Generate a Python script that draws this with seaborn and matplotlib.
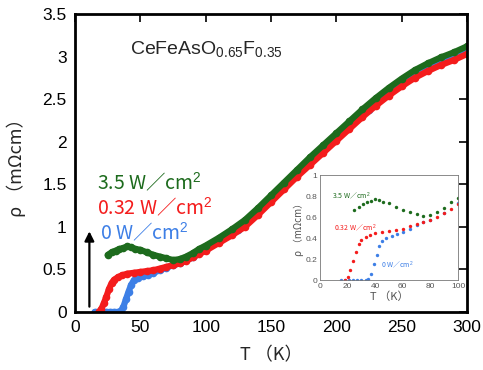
import matplotlib
matplotlib.use("Agg")
import matplotlib.pyplot as plt
import seaborn as sns
import numpy as np

sns.set_theme(style="white")
plt.rcParams['font.family'] = ['Liberation Sans', 'DejaVu Sans']
plt.rcParams['mathtext.fontset'] = 'custom'
plt.rcParams['mathtext.rm'] = 'Liberation Sans'
plt.rcParams['mathtext.it'] = 'Liberation Sans:italic'
CJK = ['Noto Sans CJK JP', 'DejaVu Sans']

# ---- data ----
T_red = [18, 20, 22, 24, 26, 28, 30, 33, 36, 40, 45, 50, 55, 60, 65, 70, 75, 80, 85, 90,
         95, 100, 110, 120, 130, 140, 150, 160, 170, 180, 190, 200, 210, 220, 230, 240,
         250, 260, 270, 280, 290, 300]
rho_red = [0.0, 0.03, 0.10, 0.18, 0.27, 0.34, 0.38, 0.41, 0.43, 0.45, 0.46, 0.47, 0.48, 0.49,
           0.51, 0.53, 0.55, 0.57, 0.60, 0.64, 0.68, 0.72, 0.81, 0.90, 1.00, 1.14, 1.29, 1.44,
           1.59, 1.73, 1.87, 2.01, 2.15, 2.29, 2.42, 2.54, 2.65, 2.75, 2.83, 2.90, 2.96, 3.03]

T_grn = [25, 28, 31, 34, 37, 40, 43, 46, 50, 55, 60, 65, 70, 75, 80, 85, 90, 95, 100, 110,
         120, 130, 140, 150, 160, 170, 180, 190, 200, 210, 220, 230, 240, 250, 260, 270,
         280, 290, 300]
rho_grn = [0.67, 0.70, 0.72, 0.74, 0.75, 0.77, 0.76, 0.74, 0.73, 0.70, 0.67, 0.65, 0.63, 0.61,
           0.62, 0.65, 0.69, 0.74, 0.78, 0.87, 0.97, 1.08, 1.22, 1.37, 1.52, 1.67, 1.82, 1.96,
           2.10, 2.24, 2.38, 2.51, 2.63, 2.74, 2.84, 2.92, 2.99, 3.05, 3.12]

T_blu = [15, 18, 21, 24, 27, 30, 33, 35, 37, 39, 41, 43, 45, 48, 52, 56, 60, 65, 70, 75, 80,
         90, 100, 125, 150, 175, 200, 225, 250, 275, 300]
rho_blu = [0, 0, 0, 0, 0, 0, 0, 0.01, 0.06, 0.15, 0.24, 0.32, 0.37, 0.40, 0.42, 0.44, 0.46,
           0.49, 0.52, 0.55, 0.57, 0.64, 0.73, 0.96, 1.31, 1.69, 2.04, 2.37, 2.68, 2.90, 3.10]

labels = ["3.5 W／cm$^2$", "0.32 W／cm$^2$", "0 W／cm$^2$"]
x_ticks = [0, 50, 100, 150, 200, 250, 300]
y_ticks = [0, 0.5, 1, 1.5, 2, 2.5, 3, 3.5]
y_tick_labels = ["0", "0.5", "1", "1.5", "2", "2.5", "3", "3.5"]
inset_x_ticks = [0, 20, 40, 60, 80, 100]
inset_y_ticks = [0, 0.2, 0.4, 0.6, 0.8, 1]
inset_y_tick_labels = ["0", "0.2", "0.4", "0.6", "0.8", "1"]

c_grn = "#1d6b1d"
c_red = "#f41c1c"
c_blu = "#3d7fe6"

fig = plt.figure(figsize=(4.83, 3.70), dpi=100)
ax = fig.add_axes([0.1553, 0.1568, 0.8116, 0.8054])

for T, r, c in [(T_blu, rho_blu, c_blu), (T_red, rho_red, c_red), (T_grn, rho_grn, c_grn)]:
    sns.lineplot(x=T, y=r, ax=ax, color=c, linewidth=4.5, marker='o', markersize=5.5,
                 markeredgewidth=0, sort=False, estimator=None, solid_capstyle='round')

ax.set_xlim(0, 300)
ax.set_ylim(0, 3.5)
ax.set_xticks(x_ticks)
ax.set_xticklabels([str(v) for v in x_ticks])
ax.set_yticks(y_ticks)
ax.set_yticklabels(y_tick_labels)
ax.tick_params(direction='in', length=6, width=1.2, top=True, right=True,
               labelsize=12.5, pad=6, colors='black')
for s in ax.spines.values():
    s.set_linewidth(2)
    s.set_color('black')
ax.set_xlabel("T （K）", fontsize=13, labelpad=8, family=CJK)
ax.set_ylabel("ρ （mΩcm）", fontsize=13, labelpad=12, family=CJK)

ax.text(0.14, 0.865, "CeFeAsO$_{0.65}$F$_{0.35}$", transform=ax.transAxes, fontsize=14)
ax.text(0.055, 0.413, labels[0], transform=ax.transAxes, fontsize=14, color=c_grn, family=CJK)
ax.text(0.055, 0.328, labels[1], transform=ax.transAxes, fontsize=14, color=c_red, family=CJK)
ax.text(0.065, 0.243, labels[2], transform=ax.transAxes, fontsize=14, color=c_blu, family=CJK)
ax.annotate("", xy=(11, 0.98), xytext=(11, 0.03),
            arrowprops=dict(arrowstyle='-|>', color='black', lw=1.6, mutation_scale=14))

# ---- inset ----
ins = fig.add_axes([0.6625, 0.2432, 0.2857, 0.2838])
ins.set_facecolor('white')
for T, r, c in [(T_blu, rho_blu, c_blu), (T_red, rho_red, c_red), (T_grn, rho_grn, c_grn)]:
    Ti = [t for t in T if t <= 100]
    ri = [v for t, v in zip(T, r) if t <= 100]
    sns.scatterplot(x=Ti, y=ri, ax=ins, color=c, s=6, linewidth=0)
ins.set_xlim(0, 100)
ins.set_ylim(0, 1)
ins.set_xticks(inset_x_ticks)
ins.set_yticks(inset_y_ticks)
ins.set_yticklabels(inset_y_tick_labels)
ins.tick_params(direction='in', length=2.5, width=0.6, labelsize=6, pad=2,
                colors='#555555')
for s in ins.spines.values():
    s.set_linewidth(0.6)
    s.set_color('#777777')
ins.set_xlabel("T （K）", fontsize=8, color='#555555', labelpad=1, family=CJK)
ins.set_ylabel("ρ （mΩcm）", fontsize=7, color='#555555', labelpad=1, family=CJK)
ins.text(9, 0.77, labels[0], fontsize=5, color=c_grn, family=CJK)
ins.text(10, 0.47, labels[1], fontsize=5, color=c_red, family=CJK)
ins.text(44, 0.12, labels[2], fontsize=5, color=c_blu, family=CJK)

fig.savefig("out.png", dpi=100)
